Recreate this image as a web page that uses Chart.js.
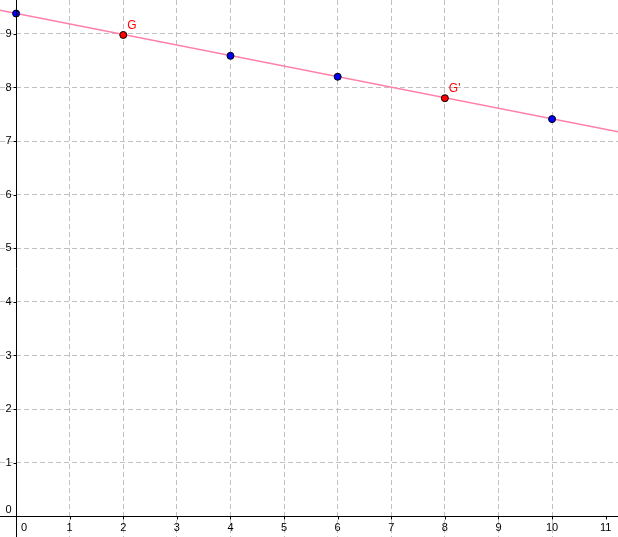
<!DOCTYPE html>
<html>
<head>
<meta charset="utf-8">
<script src="https://cdn.jsdelivr.net/npm/chart.js@4.4.1/dist/chart.umd.min.js"></script>
<style>
  html, body { margin: 0; padding: 0; background: #fff; }
  #wrap { width: 618px; height: 537px; position: relative; }
</style>
</head>
<body>
<div id="wrap"><canvas id="container"></canvas></div>
<script>
// points
var pointX = [0, 2, 4, 6, 8, 10]
var pointY = [9.38, 8.98, 8.59, 8.2, 7.8, 7.41]
var pointNames = ["", "G", "", "", "G'", ""]

// the line through them, from edge to edge
var lineX = [-0.3, 11.25]
var lineY = [9.44, 7.17]

var xTicks = [0, 1, 2, 3, 4, 5, 6, 7, 8, 9, 10, 11]
var yTicks = [0, 1, 2, 3, 4, 5, 6, 7, 8, 9]

var xMin = -0.3, xMax = 11.23
var yMin = -0.386, yMax = 9.632

function toPoints(xs, ys) {
  var out = []
  for (var i = 0; i < xs.length; i++) {
    out.push({ x: xs[i], y: ys[i] })
  }
  return out
}

var pointColors = pointNames.map(function(n) { return n ? "#ff0000" : "#0000ff" })

// draws the two axes through the origin, the tick labels and the point names
var axesPlugin = {
  id: "axes",
  afterDatasetsDraw: function(chart) {
    var ctx = chart.ctx
    var sx = chart.scales.x
    var sy = chart.scales.y
    var ox = Math.round(sx.getPixelForValue(0)) + 0.5
    var oy = Math.round(sy.getPixelForValue(0)) + 0.5
    ctx.save()
    ctx.strokeStyle = "#000"
    ctx.lineWidth = 1
    ctx.beginPath()
    ctx.moveTo(0, oy); ctx.lineTo(chart.width, oy)
    ctx.moveTo(ox, 0); ctx.lineTo(ox, chart.height)
    // small ticks
    xTicks.forEach(function(t) {
      var px = Math.round(sx.getPixelForValue(t)) + 0.5
      ctx.moveTo(px, oy); ctx.lineTo(px, oy + 3)
    })
    yTicks.forEach(function(t) {
      var py = Math.round(sy.getPixelForValue(t)) + 0.5
      ctx.moveTo(ox - 3, py); ctx.lineTo(ox, py)
    })
    ctx.stroke()

    ctx.fillStyle = "#000"
    ctx.font = "11px 'Liberation Sans', Arial, sans-serif"
    ctx.textBaseline = "middle"
    ctx.textAlign = "center"
    xTicks.forEach(function(t) {
      var px = sx.getPixelForValue(t)
      if (t === 0) px += 8
      ctx.fillText(String(t), px, oy + 11)
    })
    ctx.textAlign = "right"
    yTicks.forEach(function(t) {
      var py = sy.getPixelForValue(t)
      if (t === 0) py -= 6
      ctx.fillText(String(t), ox - 5, py)
    })

    ctx.fillStyle = "#ff0000"
    ctx.font = "12px 'Liberation Sans', Arial, sans-serif"
    ctx.textAlign = "left"
    ctx.textBaseline = "alphabetic"
    for (var i = 0; i < pointNames.length; i++) {
      if (!pointNames[i]) continue
      var p = chart.getDatasetMeta(1).data[i]
      ctx.fillText(pointNames[i], p.x + 4, p.y - 6)
    }
    ctx.restore()
  }
}

function gridScale(min, max) {
  return {
    type: "linear",
    min: min,
    max: max,
    ticks: { display: false, stepSize: 1 },
    afterBuildTicks: function(scale) {
      scale.ticks = scale.ticks.filter(function(t) { return Number.isInteger(t.value) })
    },
    grid: { color: "#c0c0c0", lineWidth: 1, drawTicks: false },
    border: { display: false, dash: [5, 3] }
  }
}

var chart = new Chart(document.getElementById("container"), {
  type: "scatter",
  data: {
    datasets: [{
      type: "line",
      order: 2,
      data: toPoints(lineX, lineY),
      borderColor: "#ff7fa6",
      borderWidth: 1.5,
      pointRadius: 0,
      fill: false
    }, {
      order: 1,
      data: toPoints(pointX, pointY),
      backgroundColor: pointColors,
      borderColor: "#000",
      borderWidth: 1,
      pointRadius: 3.5
    }]
  },
  options: {
    responsive: true,
    maintainAspectRatio: false,
    animation: false,
    layout: { padding: 0, autoPadding: false },
    plugins: { legend: { display: false }, tooltip: { enabled: false } },
    scales: {
      x: gridScale(xMin, xMax),
      y: gridScale(yMin, yMax)
    }
  },
  plugins: [axesPlugin]
})
</script>
</body>
</html>
